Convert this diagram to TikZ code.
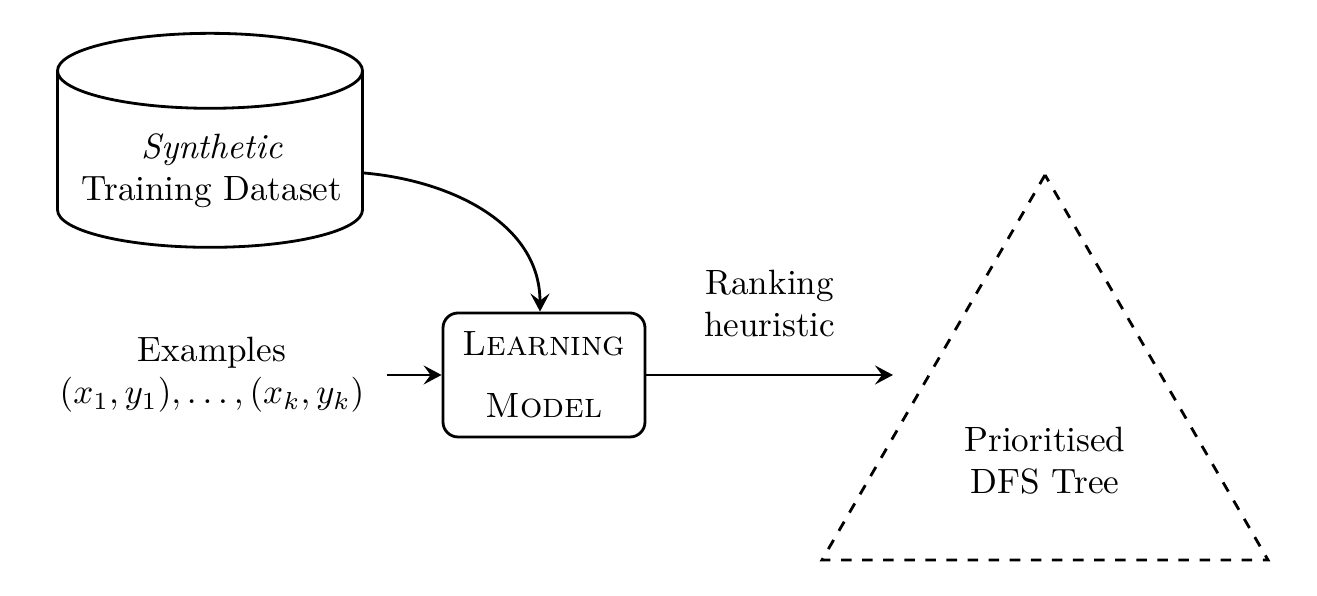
\documentclass[tikz,border=0pt]{standalone}
\usepackage{amsmath,amssymb}
\usepackage{tikz}
\usetikzlibrary{shapes.geometric,arrows.meta,calc}

\begin{document}
\begin{tikzpicture}[>={Stealth[length=1.8mm,width=1.9mm,inset=0.7mm]}]
            \useasboundingbox (0,0) rectangle (13.17,5.96);
            \node[draw,thick,shape=cylinder,shape border rotate=90,aspect=3.2,
                  minimum width=3.05cm,minimum height=2.14cm] (data) at (2.10,4.29) {};
            \node[align=center] (datatext) at (2.12,4.25) {\textit{Synthetic}\\Training Dataset};
            \node[align=center] (ex) at (2.12,2.21) {Examples\\$(x_1,y_1),\ldots,(x_k,y_k)$};
            \node[draw,thick,rounded corners=1.5mm,minimum width=2.02cm,minimum height=1.24cm,
                  align=center] (learn) at (5.44,2.21) {\textsc{Learning}\\[2mm]\textsc{Model}};
            \coordinate (tip) at (8.93,2.21);
            \coordinate (apex) at (10.45,4.21);
            \coordinate (bl) at (8.22,0.36);
            \coordinate (br) at (12.68,0.36);
            \draw[thick,dashed] (apex)--(bl)--(br)--cycle;
            \node[align=center] (tree) at (10.45,1.35) {Prioritised\\DFS Tree};
            \draw[thick,->] ([yshift=-0.6mm]data.east) to[out=-5,in=90] ([xshift=-0.4mm]learn.north);
            \draw[thick,->] ([xshift=1mm]ex.east) -- (learn.west);
            \draw[thick,->] (learn.east) -- node[above=2.5mm,align=center] (rank) {Ranking\\heuristic} (tip);
      \end{tikzpicture}
\end{document}
